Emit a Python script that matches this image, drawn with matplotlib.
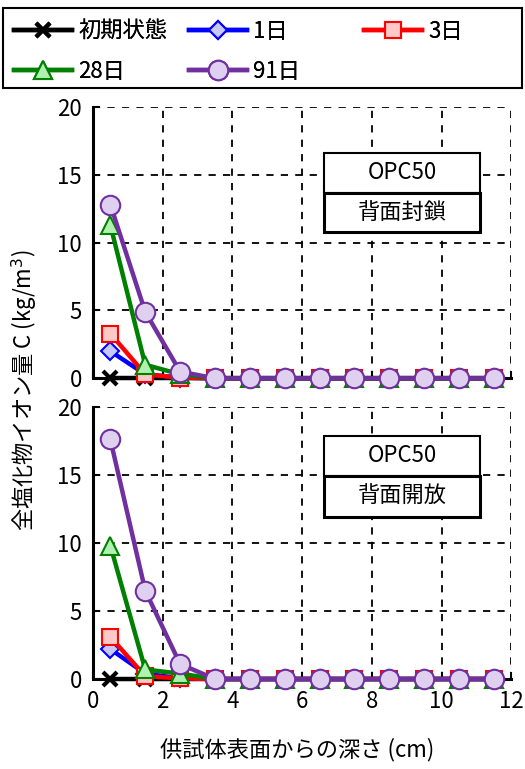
import matplotlib
matplotlib.use("Agg")
import matplotlib.pyplot as plt
from matplotlib.patches import Rectangle

plt.rcParams['font.family'] = ['Noto Sans CJK JP', 'DejaVu Sans']

depth = [0.5, 1.5, 2.5, 3.5, 4.5, 5.5, 6.5, 7.5, 8.5, 9.5, 10.5, 11.5]
labels = ['初期状態', '1日', '3日', '28日', '91日']

# 背面封鎖
sealed = [
    [0, 0, 0, 0, 0, 0, 0, 0, 0, 0, 0, 0],
    [2.0, 0.3, 0.05, 0, 0, 0, 0, 0, 0, 0, 0, 0],
    [3.3, 0.3, 0.05, 0, 0, 0, 0, 0, 0, 0, 0, 0],
    [11.3, 1.0, 0.3, 0, 0, 0, 0, 0, 0, 0, 0, 0],
    [12.8, 4.9, 0.5, 0, 0, 0, 0, 0, 0, 0, 0, 0],
]
# 背面開放
opened = [
    [0, 0, 0, 0, 0, 0, 0, 0, 0, 0, 0, 0],
    [2.2, 0.4, 0.05, 0, 0, 0, 0, 0, 0, 0, 0, 0],
    [3.1, 0.2, 0.05, 0, 0, 0, 0, 0, 0, 0, 0, 0],
    [9.8, 0.7, 0.4, 0, 0, 0, 0, 0, 0, 0, 0, 0],
    [17.6, 6.5, 1.1, 0, 0, 0, 0, 0, 0, 0, 0, 0],
]

styles = [
    dict(color='black', marker='x', ms=10, mew=3, mfc='black', mec='black'),
    dict(color='#0000ff', marker='D', ms=9, mew=1.5, mfc='#c8c8f8', mec='#0000ff'),
    dict(color='#ff0000', marker='s', ms=11, mew=1.5, mfc='#ffc8c8', mec='#ff0000'),
    dict(color='#008000', marker='^', ms=13, mew=1.5, mfc='#b0f0b0', mec='#008000'),
    dict(color='#7030a0', marker='o', ms=14, mew=1.5, mfc='#e0d0f0', mec='#7030a0'),
]

W, H = 525, 769
fig = plt.figure(figsize=(W / 100, H / 100), dpi=100)
ax1 = fig.add_axes([0.177, 0.508, 0.797, 0.353])
ax2 = fig.add_axes([0.177, 0.117, 0.797, 0.354])


def label_box(ax, x0, x1, y0, y1, text, lw):
    ax.add_patch(Rectangle((x0, y0), x1 - x0, y1 - y0, transform=ax.transAxes,
                           fc='white', ec='black', lw=lw, zorder=10, clip_on=False))
    ax.text((x0 + x1) / 2, (y0 + y1) / 2, text, transform=ax.transAxes,
            fontsize=16, ha='center', va='center', zorder=11)


def draw_panel(ax, data, cond, ys):
    handles = []
    for vals, lab, st in zip(data, labels, styles):
        h, = ax.plot(depth, vals, lw=3.2, label=lab, clip_on=False, zorder=5, **st)
        handles.append(h)
    ax.set_xlim(0, 12)
    ax.set_ylim(0, 20)
    ax.set_xticks(range(0, 13, 2))
    ax.set_yticks(range(0, 21, 5))
    ax.grid(True, color='black', linestyle=(0, (4, 4)), linewidth=1.3)
    ax.spines['top'].set_visible(False)
    ax.spines['right'].set_visible(False)
    ax.spines['left'].set_linewidth(2.2)
    ax.spines['bottom'].set_linewidth(2.2)
    ax.tick_params(direction='in', length=5, width=1.5, labelsize=16, pad=8)
    # 条件ラベルの枠
    label_box(ax, 0.552, 0.926, ys[1], ys[0], 'OPC50', 1.5)
    label_box(ax, 0.552, 0.926, ys[2], ys[1], cond, 2.2)
    return handles


handles = draw_panel(ax1, sealed, '背面封鎖', (0.830, 0.683, 0.539))
draw_panel(ax2, opened, '背面開放', (0.893, 0.746, 0.596))
ax1.set_xticklabels([])

fig.text(0.565, 0.025, '供試体表面からの深さ (cm)', ha='center', va='center', fontsize=16)
fig.text(0.045, 0.493, '全塩化物イオン量 C (kg/m$^3$)', ha='center', va='center',
         rotation=90, fontsize=16)

# 凡例: 3列を等間隔に置き、外枠は別に描く
fig.add_artist(Rectangle((3 / W, 1 - 88 / H), 519 / W, 80 / H, transform=fig.transFigure,
                         fc='white', ec='black', lw=1.5, zorder=0))
columns = [[0, 3], [1, 4], [2]]
col_x = [14, 189, 364]
for idx, x in zip(columns, col_x):
    leg = fig.legend(handles=[handles[i] for i in idx], loc='upper left',
                     bbox_to_anchor=(x / W, 1 - 20 / H), bbox_transform=fig.transFigure,
                     fontsize=16, frameon=False, handlelength=2.6, handletextpad=0.3,
                     borderpad=0, borderaxespad=0, labelspacing=0.75)
    fig.add_artist(leg)

fig.savefig('out.png', dpi=100)
